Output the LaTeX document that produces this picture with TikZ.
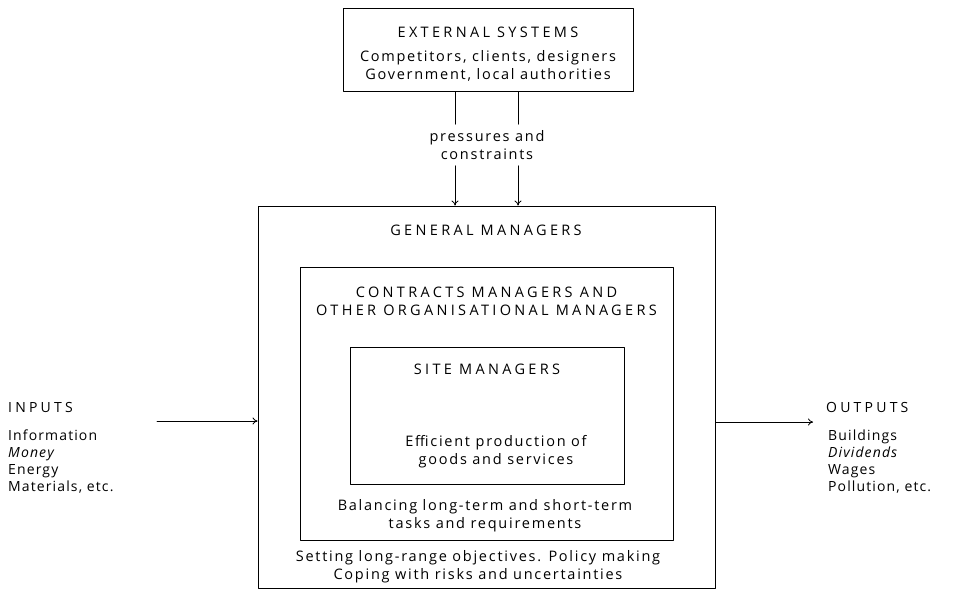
\documentclass[tikz,border=0pt]{standalone}
\usepackage{fontspec}
\setmainfont{Open Sans}[LetterSpace=12]
\newfontfamily\capsfont{Open Sans}[LetterSpace=23]
\newfontfamily\listfont{Open Sans}[LetterSpace=8]
\usetikzlibrary{arrows.meta}

\begin{document}
\begin{tikzpicture}[x=1pt,y=-1pt,line cap=round,line join=round,
  box/.style={draw,line width=0.9pt,inner sep=0pt},
  txt/.style={font=\fontsize{14.5}{18}\selectfont,align=center,inner sep=0pt},
  captxt/.style={font=\capsfont\fontsize{14.5}{18}\selectfont,align=center,inner sep=0pt},
  lst/.style={font=\listfont\fontsize{14}{17}\selectfont,align=left,anchor=north west,inner sep=0pt},
  arr/.style={line width=0.8pt,-{To[length=5pt,width=7pt]}}]
\path[use as bounding box] (0,0) rectangle (959,592);
% the four boxes
\node[box,minimum width=290,minimum height=83] (ext) at (488,49.5) {};
\node[box,minimum width=457,minimum height=382] (gm) at (486.5,397) {};
\node[box,minimum width=373,minimum height=273] (cm) at (486.5,403.5) {};
\node[box,minimum width=274,minimum height=137] (sm) at (487,415.5) {};
% texts in the boxes
\node[captxt] (exttitle) at (488,32) {EXTERNAL SYSTEMS};
\node[txt] (extbody) at (488,66) {Competitors, clients, designers\\Government, local authorities};
\node[captxt] (gmtitle) at (486,230) {GENERAL MANAGERS};
\node[captxt] (cmtitle) at (486.5,301) {CONTRACTS MANAGERS AND\\OTHER ORGANISATIONAL MANAGERS};
\node[captxt] (smtitle) at (487,369) {SITE MANAGERS};
\node[txt] (smbody) at (496,452) {Efficient production of\\goods and services};
\node[txt] (cmbody) at (485,516) {Balancing long-term and short-term\\tasks and requirements};
\node[txt] (gmbody) at (478,567) {Setting long-range objectives. Policy making\\Coping with risks and uncertainties};
% pressures from outside
\node[txt,inner sep=6pt] (press) at (487,145) {pressures and\\constraints};
\coordinate (xa) at (455,0);
\coordinate (xb) at (518,0);
\draw[line width=0.8pt] (ext.south -| xa) -- (press.north -| xa);
\draw[line width=0.8pt] (ext.south -| xb) -- (press.north -| xb);
\draw[arr] (press.south -| xa) -- (gm.north -| xa);
\draw[arr] (press.south -| xb) -- (gm.north -| xb);
% inputs and outputs
\node[lst,font=\capsfont\fontsize{14}{17}\selectfont] (inhead) at (8,402) {INPUTS};
\node[lst] (inlist) at (8,430) {Information\\\textit{Money}\\Energy\\Materials, etc.};
\node[lst,font=\capsfont\fontsize{14}{17}\selectfont] (outhead) at (826,402) {OUTPUTS};
\node[lst] (outlist) at (828,430) {Buildings\\\textit{Dividends}\\Wages\\Pollution, etc.};
\coordinate (instart) at (157,421);
\coordinate (outend) at (813,422);
\draw[arr] (instart) -- (instart -| gm.west);
\draw[arr] (outend -| gm.east) -- (outend);
\end{tikzpicture}
\end{document}
